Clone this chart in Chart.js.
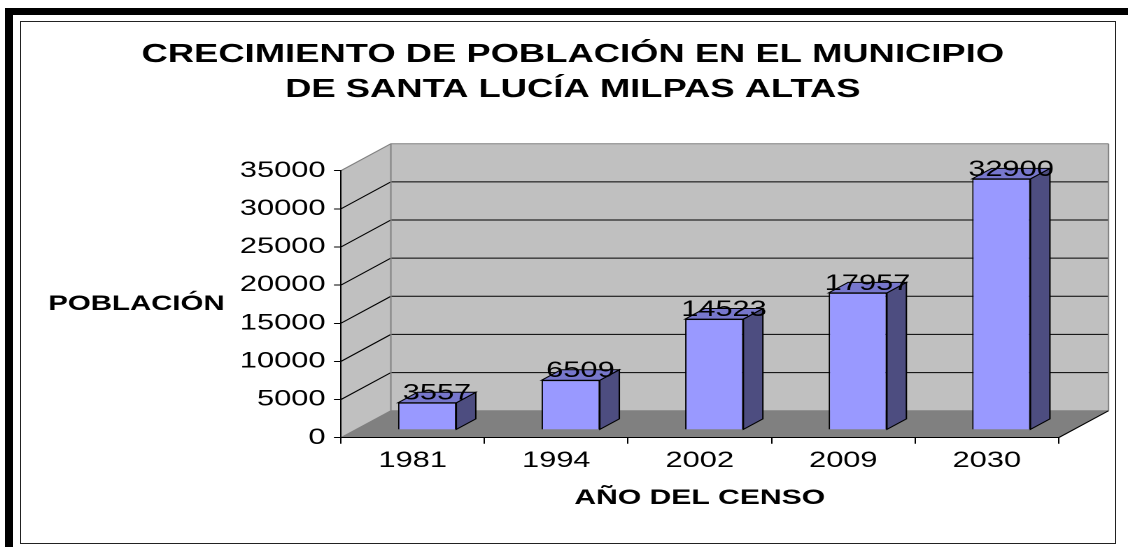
<!DOCTYPE html>
<html>
<head>
<meta charset="utf-8">
<script src="https://cdn.jsdelivr.net/npm/chart.js@4.4.1/dist/chart.umd.min.js"></script>
<style>
  html, body { margin: 0; padding: 0; background: #fff; }
  body { width: 1128px; height: 547px; position: relative; overflow: hidden; }
  .frame-top { position: absolute; left: 5px; top: 8px; right: 0; height: 7px; background: #000; }
  .frame-left { position: absolute; left: 5px; top: 8px; bottom: 0; width: 8px; background: #000; }
  .inner { position: absolute; left: 20px; top: 21px; width: 1096px; height: 523px; border: 1px solid #222; box-sizing: border-box; }
  #chart { position: absolute; left: 0; top: 0; }
</style>
</head>
<body>
<div class="frame-top"></div>
<div class="frame-left"></div>
<div class="inner"></div>
<!-- drawn narrow and stretched sideways, like the original picture -->
<canvas id="chart" width="806" height="547" style="width:1128px;height:547px"></canvas>
<script>
const years = ["1981", "1994", "2002", "2009", "2030"];
const population = [3557, 6509, 14523, 17957, 32900];
const yMin = 0;
const yMax = 35000;
const yStep = 5000;
const titleLines = ["CRECIMIENTO DE POBLACIÓN EN EL MUNICIPIO", "DE SANTA LUCÍA MILPAS ALTAS"];
const xTitle = "AÑO DEL CENSO";
const yTitle = "POBLACIÓN";

const FONT = "'Liberation Sans', Arial, sans-serif";
Chart.defaults.font.family = FONT;
Chart.defaults.color = "#000";

// 3d look: depth of the walls as a share of one category, and slope of the depth
const WALL_DEPTH = 0.348;
const SLOPE = 0.756;
const BAR_FRONT = 0.29; // bar front face sits this far into the depth
const BAR_DEPTH = 0.39;

function depth(chart) {
  const a = chart.chartArea;
  const dx = ((a.right - a.left) / years.length) * WALL_DEPTH;
  return { dx, dy: dx * SLOPE };
}

function poly(ctx, pts, fill, stroke) {
  ctx.beginPath();
  pts.forEach((p, i) => (i ? ctx.lineTo(p[0], p[1]) : ctx.moveTo(p[0], p[1])));
  ctx.closePath();
  if (fill) {
    ctx.fillStyle = fill;
    ctx.fill();
  }
  if (stroke) {
    ctx.strokeStyle = stroke;
    ctx.stroke();
  }
}

function seg(ctx, pts, color) {
  ctx.beginPath();
  pts.forEach((p, i) => (i ? ctx.lineTo(p[0], p[1]) : ctx.moveTo(p[0], p[1])));
  ctx.strokeStyle = color;
  ctx.stroke();
}

const wallPlugin = {
  id: "walls",
  beforeDraw(chart) {
    const { ctx, chartArea: a, scales } = chart;
    const { dx, dy } = depth(chart);
    ctx.save();
    ctx.lineWidth = 1;
    poly(ctx, [[a.left, a.bottom], [a.left, a.top], [a.left + dx, a.top - dy], [a.left + dx, a.bottom - dy]], "#c0c0c0");
    poly(ctx, [[a.left + dx, a.top - dy], [a.right + dx, a.top - dy], [a.right + dx, a.bottom - dy], [a.left + dx, a.bottom - dy]], "#c0c0c0");
    poly(ctx, [[a.left, a.bottom], [a.right, a.bottom], [a.right + dx, a.bottom - dy], [a.left + dx, a.bottom - dy]], "#808080");

    scales.y.ticks.forEach((t) => {
      const py = scales.y.getPixelForValue(t.value);
      const edge = t.value === yMin || t.value === yMax;
      seg(ctx, [[a.left, py], [a.left + dx, py - dy], [a.right + dx, py - dy]], edge ? "#808080" : "#000");
    });
    seg(ctx, [[a.left + dx, a.bottom - dy], [a.left + dx, a.top - dy]], "#808080");
    seg(ctx, [[a.right + dx, a.top - dy], [a.right + dx, a.bottom - dy]], "#808080");
    seg(ctx, [[a.right, a.bottom], [a.right + dx, a.bottom - dy]], "#000");
    ctx.restore();
  },
};

const barPlugin = {
  id: "bars3d",
  beforeDatasetsDraw(chart) {
    const { dx, dy } = depth(chart);
    chart.ctx.save();
    chart.ctx.translate(dx * BAR_FRONT, -dy * BAR_FRONT);
  },
  afterDatasetsDraw(chart) {
    const { ctx } = chart;
    const { dx, dy } = depth(chart);
    const bx = dx * BAR_DEPTH;
    const by = dy * BAR_DEPTH;
    ctx.lineWidth = 1;
    chart.getDatasetMeta(0).data.forEach((bar, i) => {
      const { x, y, base, width } = bar.getProps(["x", "y", "base", "width"], true);
      const l = x - width / 2;
      const r = x + width / 2;
      poly(ctx, [[r, y], [r + bx, y - by], [r + bx, base - by], [r, base]], "#4d4d80", "#000");
      poly(ctx, [[l, y], [r, y], [r + bx, y - by], [l + bx, y - by]], "#7777cc", "#000");
      ctx.fillStyle = "#000";
      ctx.font = "22px " + FONT;
      ctx.textAlign = "center";
      ctx.textBaseline = "alphabetic";
      ctx.fillText(String(population[i]), x + bx / 2, y - 3);
    });
    ctx.restore();
  },
};

const yTitlePlugin = {
  id: "yTitle",
  afterDraw(chart) {
    const { ctx } = chart;
    ctx.save();
    ctx.font = "bold 21px " + FONT;
    ctx.fillStyle = "#000";
    ctx.textAlign = "left";
    ctx.textBaseline = "middle";
    ctx.fillText(yTitle, 34.5, 304);
    ctx.restore();
  },
};

new Chart(document.getElementById("chart"), {
  type: "bar",
  data: {
    labels: years,
    datasets: [
      {
        data: population,
        backgroundColor: "#9999ff",
        borderColor: "#000",
        borderWidth: 1,
        categoryPercentage: 1,
        barPercentage: 0.406,
      },
    ],
  },
  options: {
    responsive: false,
    devicePixelRatio: 2,
    animation: false,
    layout: {
      padding: { left: 62.2, right: 49.6, top: 0, bottom: 29.3 },
    },
    plugins: {
      legend: { display: false },
      tooltip: { enabled: false },
      title: {
        display: true,
        text: titleLines,
        color: "#000",
        font: { size: 26, weight: "bold", lineHeight: "35px" },
        padding: { top: 37.5, bottom: 63.2 },
      },
    },
    scales: {
      x: {
        afterFit: (s) => {
          s.height = 80;
        },
        grid: { drawOnChartArea: false, tickLength: 6, color: "#000" },
        border: { color: "#000" },
        ticks: { color: "#000", padding: 4, font: { size: 22 } },
        title: {
          display: true,
          text: xTitle,
          color: "#000",
          font: { size: 21.5, weight: "bold" },
          padding: { top: 0, bottom: 6.8 },
        },
      },
      y: {
        min: yMin,
        max: yMax,
        afterFit: (s) => {
          s.width = 181.4;
        },
        grid: { drawOnChartArea: false, tickLength: 5, color: "#000" },
        border: { color: "#000" },
        ticks: {
          stepSize: yStep,
          color: "#000",
          padding: 6,
          font: { size: 22 },
          callback: (v) => String(v),
        },
      },
    },
  },
  plugins: [wallPlugin, barPlugin, yTitlePlugin],
});
</script>
</body>
</html>
